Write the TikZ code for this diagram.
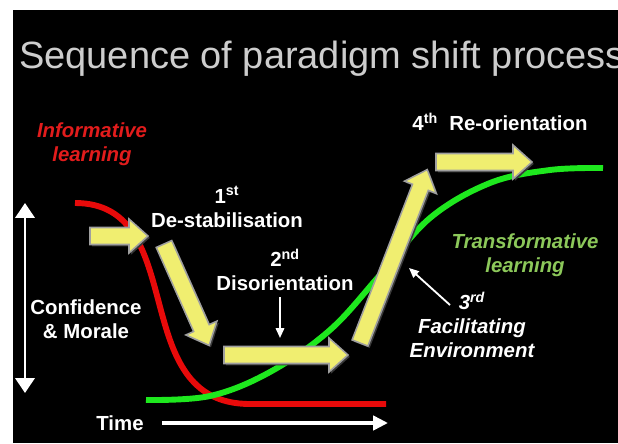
\documentclass[tikz,border=0pt]{standalone}
\usepackage{fontspec}
\setmainfont{Liberation Sans}
\usepackage[]{tikz}
\usetikzlibrary{arrows.meta,shadows}
\definecolor{curvered}{RGB}{232,10,10}
\definecolor{curvegreen}{RGB}{30,232,30}
\definecolor{textred}{RGB}{226,28,28}
\definecolor{textgreen}{RGB}{140,200,90}
\definecolor{titlegray}{RGB}{205,205,205}
\definecolor{arrowyellow}{RGB}{240,238,112}
\tikzset{curve/.style={line width=4.2pt},
  yarrow/.style={fill=arrowyellow,draw=gray!75,line width=1.1pt,
    drop shadow={fill=gray!45!black,opacity=1,shadow xshift=1.3pt,shadow yshift=-1.3pt}},
  lbl/.style={font=\fontsize{14.5}{17}\selectfont\bfseries,text=white,align=center,inner sep=0pt},
  slant/.style={lbl,font=\fontsize{14.5}{17}\selectfont\bfseries\itshape},
  thinarrow/.style={white,line width=1.3pt,-{Triangle[width=6pt,length=7pt]}},
  axisarrow/.style={white,line width=2pt,{Triangle[width=13.5pt,length=10.5pt]}-{Triangle[width=13.5pt,length=10.5pt]}}}

\begin{document}
\begin{tikzpicture}[x=0.025cm,y=0.025cm] % 1 unit = 1 px of the slide
            \useasboundingbox (0,0) rectangle (618,443);
            \clip (0,0) rectangle (618,443);
            \fill[white] (0,0) rectangle (618,443);
            \fill[black] (13,0) rectangle (618,433);  % the slide
            \node[anchor=base west,inner sep=0pt,text=titlegray,font=\fontsize{27}{30}\selectfont] (head) at (19,375) {Sequence of paradigm shift process};
            % the two learning curves
            \draw[curve,curvered] (75,240) .. controls (192,240) and (124,39) .. (250,39) -- (386,39);
            \draw[curve,curvegreen] plot[smooth,tension=0.6] coordinates {(146,43) (210,47) (270,71) (330,113) (380,168) (430,225) (490,260) (550,273) (603,275)};
            % yellow steps
            \filldraw[yarrow,shift={(90,207)}] (0,-8.5) -- (39,-8.5) -- (39,-17) -- (58,0) -- (39,17) -- (39,8.5) -- (0,8.5) -- cycle;
            \filldraw[yarrow,shift={(164,199)},rotate=-66] (0,-8.5) -- (92,-8.5) -- (92,-17) -- (111,0) -- (92,17) -- (92,8.5) -- (0,8.5) -- cycle;
            \filldraw[yarrow,shift={(224,88)}] (0,-8.5) -- (105,-8.5) -- (105,-17) -- (124,0) -- (105,17) -- (105,8.5) -- (0,8.5) -- cycle;
            \filldraw[yarrow,shift={(360,100)},rotate=68.8] (0,-8.5) -- (167,-8.5) -- (167,-17) -- (186,0) -- (167,17) -- (167,8.5) -- (0,8.5) -- cycle;
            \filldraw[yarrow,shift={(436,281)}] (0,-8.5) -- (77,-8.5) -- (77,-17) -- (96,0) -- (77,17) -- (77,8.5) -- (0,8.5) -- cycle;
            % labels
            \node[slant,text=textred] (inform) at (92,299) {Informative\\learning};
            \node[lbl] (first) at (227,236) {1\textsuperscript{st}\\De-stabilisation};
            \node[lbl] (second) at (285,173) {2\textsuperscript{nd}\\Disorientation};
            \node[lbl] (fourth) at (500,321) {4\textsuperscript{th}\ \ Re-orientation};
            \node[slant,text=textgreen] (transf) at (525,188) {Transformative\\learning};
            \node[lbl] (conf) at (86,124) {Confidence\\\& Morale};
            \node[slant] (third) at (472,118) {3\textsuperscript{rd}\\Facilitating\\Environment};
            \node[lbl] (time) at (120,20) {Time};
            % axes and pointers
            \coordinate (ctop) at (25,240);
            \coordinate (cbot) at (25,50);
            \coordinate (tstart) at (162,20);
            \coordinate (tend) at (388,20);
            \coordinate (dtail) at (280,146);
            \coordinate (dtip) at (280,105);
            \coordinate (ftail) at (450,138);
            \coordinate (ftip) at (409,175);
            \draw[axisarrow] (cbot) -- (ctop);
            \draw[white,line width=2.8pt,-{Triangle[width=10pt,length=10.5pt]}] (tstart) -- (tend);
            \draw[thinarrow] (dtail) -- (dtip);
            \draw[thinarrow] (ftail) -- (ftip);
        \end{tikzpicture}
\end{document}
